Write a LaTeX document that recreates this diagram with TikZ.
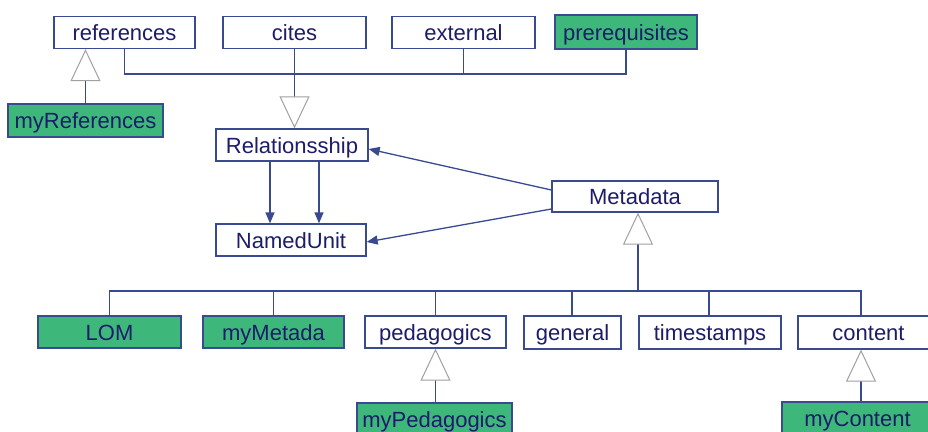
\documentclass[tikz,border=0pt]{standalone}
\usepackage{fontspec}
\setmainfont{Liberation Sans}
\usetikzlibrary{arrows.meta,calc}
\definecolor{edge}{HTML}{3A4A90}
\definecolor{ink}{HTML}{1C1C6B}
\definecolor{leaf}{HTML}{3DB87A}
\definecolor{gen}{HTML}{A0A0A0}
\begin{document}
\begin{tikzpicture}[x=1pt,y=-1pt,
  cls/.style={draw=edge, line width=1.3pt, fill=white, text=ink, inner sep=0pt,
    minimum height=32pt, text height=16pt, text depth=0pt,
    font=\fontsize{22}{26}\selectfont},
  own/.style={cls, fill=leaf},
  link/.style={draw=edge, line width=1.3pt},
  assoc/.style={link, -{Triangle[length=11pt,width=9pt]}},
  inherit/.style={link, -{Triangle[length=32pt,width=30pt,line width=1pt,color=gen,fill=white]}}]
\fill[white] (0,0) rectangle (928,431);
\useasboundingbox (0,0) rectangle (928,431);

% top row of relationship kinds
\node[cls, minimum width=141pt] (references) at (124.5,32.5) {references};
\node[cls, minimum width=143pt] (cites) at (294.5,32.5) {cites};
\node[cls, minimum width=143pt] (external) at (463.5,32.5) {external};
\node[own, minimum width=142pt, minimum height=34pt] (prerequisites) at (626,32) {prerequisites};
\node[own, minimum width=155pt, minimum height=33pt] (myReferences) at (85.5,120.5) {myReferences};

% core classes
\node[cls, minimum width=152pt] (Relationsship) at (292,145) {Relationsship};
\node[cls, minimum width=150pt] (NamedUnit) at (291,240) {NamedUnit};
\node[cls, minimum width=166pt, minimum height=31pt] (Metadata) at (635,196.5) {Metadata};

% metadata kinds
\node[own, minimum width=143pt] (LOM) at (109.5,332) {LOM};
\node[own, minimum width=141pt] (myMetada) at (273.5,332) {myMetada};
\node[cls, minimum width=141pt] (pedagogics) at (435.5,332) {pedagogics};
\node[cls, minimum width=97pt, minimum height=33pt] (general) at (572.5,332.5) {general};
\node[cls, minimum width=142pt, minimum height=33pt] (timestamps) at (710,332.5) {timestamps};
\node[cls, minimum width=141pt, minimum height=33pt] (content) at (868.5,332.5) {content};
\node[own, minimum width=155pt, minimum height=33pt] (myPedagogics) at (434.5,419.5) {myPedagogics};
\node[own, minimum width=151pt, minimum height=33pt] (myContent) at (857.5,418.5) {myContent};

% junction points of the two buses
\coordinate (topbus) at (294,74);
\coordinate (lowbus) at (638,291);
\coordinate (cJoin) at (861,291);

% relationship kinds generalise Relationsship
\draw[link] (references.south) |- (prerequisites.south |- topbus) -- (prerequisites.south);
\draw[link] (external.south) -- (external.south |- topbus);
\draw[inherit] (cites.south) -- (cites.south |- Relationsship.north);
\draw[inherit] (myReferences.north) -- (myReferences.north |- references.south);

% associations
\draw[assoc] ([xshift=-22pt]Relationsship.south) -- ([xshift=-22pt]Relationsship.south |- NamedUnit.north);
\draw[assoc] ([xshift=27pt]Relationsship.south) -- ([xshift=27pt]Relationsship.south |- NamedUnit.north);
\draw[assoc] ([yshift=6.5pt]Metadata.west) -- ([yshift=-4pt]Relationsship.east);
\draw[assoc] ([yshift=-12.5pt]Metadata.west) -- ([yshift=-2pt]NamedUnit.east);

% metadata kinds generalise Metadata
\draw[inherit] (lowbus) -- (lowbus |- Metadata.south);
\draw[link] (LOM.north) |- (cJoin) -- (cJoin |- content.north);
\draw[link] (myMetada.north) -- (myMetada.north |- cJoin);
\draw[link] (pedagogics.north) -- (pedagogics.north |- cJoin);
\draw[link] ([xshift=-0.5pt]general.north) -- ([xshift=-0.5pt]general.north |- cJoin);
\draw[link] ([xshift=-1pt]timestamps.north) -- ([xshift=-1pt]timestamps.north |- cJoin);
\draw[inherit] (myPedagogics.north -| pedagogics.south) -- (pedagogics.south);
\draw[inherit] (myContent.north -| cJoin) -- (content.south -| cJoin);
\end{tikzpicture}
\end{document}
